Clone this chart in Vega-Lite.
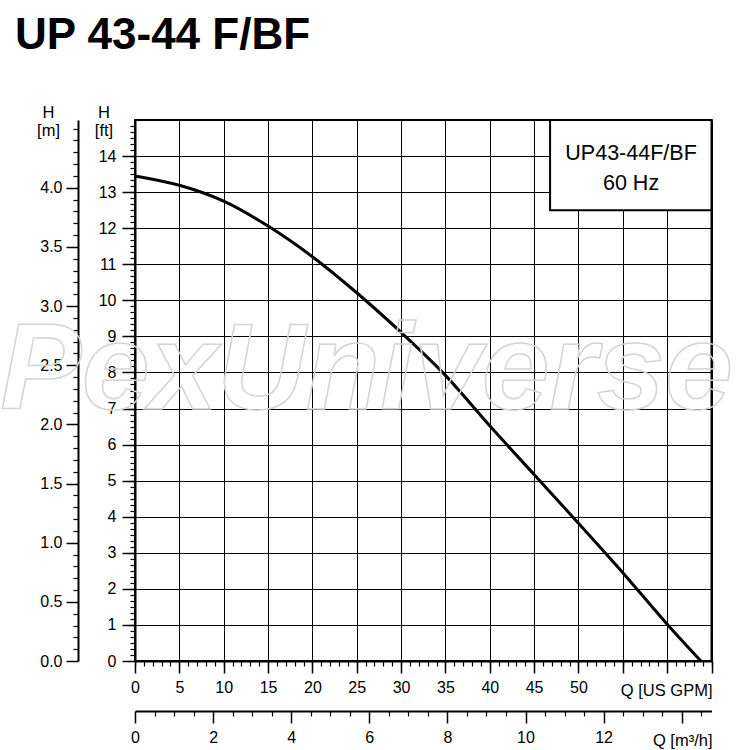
{
  "$schema": "https://vega.github.io/schema/vega-lite/v6.json",
  "width": 576.5,
  "height": 541,
  "autosize": {"type": "none"},
  "padding": {"left": 135, "top": 120, "right": 38.5, "bottom": 89},
  "background": "white",
  "config": {
    "font": "Liberation Sans",
    "view": {"stroke": "black", "strokeWidth": 2},
    "axis": {
      "labelFont": "Liberation Sans",
      "labelFontSize": 16,
      "labelColor": "black",
      "labelOverlap": false,
      "labelFlush": false,
      "titleFont": "Liberation Sans",
      "titleFontSize": 16.5,
      "titleFontWeight": "normal",
      "titleColor": "black",
      "tickColor": "black",
      "domainColor": "black",
      "gridColor": "black",
      "gridOpacity": 1
    }
  },
  "title": {
    "text": "UP 43-44 F/BF",
    "anchor": "start",
    "frame": "group",
    "font": "Liberation Sans",
    "fontSize": 44,
    "fontWeight": "bold",
    "color": "black",
    "baseline": "bottom",
    "dx": -120,
    "dy": -2,
    "offset": 0
  },
  "layer": [
    {
      "data": {"values": [
        {"gpm": 0, "ft": 13.45},
        {"gpm": 5, "ft": 13.19},
        {"gpm": 10, "ft": 12.75},
        {"gpm": 15, "ft": 12.06},
        {"gpm": 20, "ft": 11.21},
        {"gpm": 25, "ft": 10.21},
        {"gpm": 30, "ft": 9.11},
        {"gpm": 35, "ft": 7.92},
        {"gpm": 40, "ft": 6.52},
        {"gpm": 45, "ft": 5.17},
        {"gpm": 50, "ft": 3.82},
        {"gpm": 55, "ft": 2.45},
        {"gpm": 60, "ft": 1.02},
        {"gpm": 63.8, "ft": 0}
      ]},
      "layer": [
        {
          "mark": {"type": "line", "color": "black", "strokeWidth": 3, "interpolate": "monotone"},
          "encoding": {
            "x": {
              "field": "gpm", "type": "quantitative",
              "scale": {"domain": [0, 65], "nice": false, "zero": false},
              "axis": {
                "orient": "bottom",
                "values": [0, 5, 10, 15, 20, 25, 30, 35, 40, 45, 50, 55, 60, 65],
                "grid": true, "gridWidth": 1,
                "tickSize": 12, "tickWidth": 1.5,
                "domainWidth": 2,
                "labelPadding": 6,
                "labelExpr": "datum.value <= 50 ? datum.label : ''",
                "title": "Q [US GPM]",
                "titleX": 577, "titleY": 34,
                "titleAlign": "right", "titleBaseline": "alphabetic"
              }
            },
            "y": {
              "field": "ft", "type": "quantitative",
              "scale": {"domain": [0, 15], "nice": false, "zero": false},
              "axis": {
                "orient": "left",
                "values": [0, 1, 2, 3, 4, 5, 6, 7, 8, 9, 10, 11, 12, 13, 14],
                "tickCount": 15,
                "grid": true, "gridWidth": 1,
                "tickSize": 13, "tickWidth": 1.5,
                "domainWidth": 2,
                "labelPadding": 6,
                "title": ["H", "[ft]"],
                "titleAngle": 0, "titleAlign": "center", "titleBaseline": "alphabetic",
                "titleX": -31.5, "titleY": -3, "titleLineHeight": 18
              }
            }
          }
        },
        {
          "data": {"values": [{}]},
          "mark": {"type": "text", "text": "PexUniverse", "font": "Liberation Sans", "fontSize": 122, "fontWeight": "bold", "fontStyle": "italic", "fill": "white", "fillOpacity": 0, "stroke": "#d4d4d4", "strokeWidth": 1.5, "align": "center", "baseline": "alphabetic"},
          "encoding": {
            "x": {"datum": 26.1, "type": "quantitative"},
            "y": {"datum": 7, "type": "quantitative"}
          }
        },
        {
          "data": {"values": [{}]},
          "mark": {"type": "rect", "fill": "white", "stroke": "black", "strokeWidth": 2},
          "encoding": {
            "x": {"datum": 46.8, "type": "quantitative"},
            "x2": {"datum": 65},
            "y": {"datum": 12.5, "type": "quantitative"},
            "y2": {"datum": 15}
          }
        },
        {
          "data": {"values": [{}]},
          "mark": {"type": "text", "text": ["UP43-44F/BF", "60 Hz"], "font": "Liberation Sans", "fontSize": 21.5, "lineHeight": 30, "align": "center", "baseline": "middle", "color": "black"},
          "encoding": {
            "x": {"datum": 55.93, "type": "quantitative"},
            "y": {"datum": 14.06, "type": "quantitative"}
          }
        }
      ]
    },
    {
      "data": {"values": [{"q": 0}]},
      "mark": {"type": "point", "opacity": 0},
      "encoding": {
        "x": {
          "field": "q", "type": "quantitative",
          "scale": {"domain": [0, 65], "nice": false, "zero": false},
          "axis": {
            "orient": "bottom",
            "values": [0,1,2,3,4,5,6,7,8,9,10,11,12,13,14,15,16,17,18,19,20,21,22,23,24,25,26,27,28,29,30,31,32,33,34,35,36,37,38,39,40,41,42,43,44,45,46,47,48,49,50,51,52,53,54,55,56,57,58,59,60,61,62,63,64,65],
            "tickSize": 5, "tickWidth": 1.2,
            "labels": false, "domain": false, "grid": false, "title": null
          }
        }
      }
    },
    {
      "data": {"values": [{"inch": 0}]},
      "mark": {"type": "point", "opacity": 0},
      "encoding": {
        "y": {
          "field": "inch", "type": "quantitative",
          "scale": {"domain": [0, 180], "nice": false, "zero": false},
          "axis": {
            "orient": "left",
            "values": [2,4,6,8,10,12,14,16,18,20,22,24,26,28,30,32,34,36,38,40,42,44,46,48,50,52,54,56,58,60,62,64,66,68,70,72,74,76,78,80,82,84,86,88,90,92,94,96,98,100,102,104,106,108,110,112,114,116,118,120,122,124,126,128,130,132,134,136,138,140,142,144,146,148,150,152,154,156,158,160,162,164,166,168,170,172,174,176,178],
            "tickSize": 5, "tickWidth": 1.2,
            "labels": false, "domain": false, "grid": false, "title": null
          }
        }
      }
    },
    {
      "data": {"values": [{"m": 0}]},
      "mark": {"type": "point", "opacity": 0},
      "encoding": {
        "y": {
          "field": "m", "type": "quantitative",
          "scale": {"domain": [0, 4.572], "nice": false, "zero": false},
          "axis": {
            "orient": "left", "offset": 57,
            "values": [0, 0.5, 1, 1.5, 2, 2.5, 3, 3.5, 4],
            "format": ".1f",
            "tickSize": 12, "tickWidth": 1.5,
            "domainWidth": 2,
            "labelPadding": 4,
            "grid": false,
            "title": ["H", "[m]"],
            "titleAngle": 0, "titleAlign": "center", "titleBaseline": "alphabetic",
            "titleX": -30, "titleY": -3, "titleLineHeight": 18
          }
        }
      }
    },
    {
      "data": {"values": [{"m": 0}]},
      "mark": {"type": "point", "opacity": 0},
      "encoding": {
        "y": {
          "field": "m", "type": "quantitative",
          "scale": {"domain": [0, 4.572], "nice": false, "zero": false},
          "axis": {
            "orient": "left", "offset": 57,
            "values": [0.1,0.2,0.3,0.4,0.6,0.7,0.8,0.9,1.1,1.2,1.3,1.4,1.6,1.7,1.8,1.9,2.1,2.2,2.3,2.4,2.6,2.7,2.8,2.9,3.1,3.2,3.3,3.4,3.6,3.7,3.8,3.9,4.1,4.2,4.3,4.4,4.5],
            "tickSize": 5, "tickWidth": 1.2,
            "labels": false, "domain": false, "grid": false, "title": null
          }
        }
      }
    },
    {
      "data": {"values": [{"m3h": 0}]},
      "mark": {"type": "point", "opacity": 0},
      "encoding": {
        "x": {
          "field": "m3h", "type": "quantitative",
          "scale": {"domain": [0, 14.763], "nice": false, "zero": false},
          "axis": {
            "orient": "bottom", "offset": 50,
            "values": [0, 2, 4, 6, 8, 10, 12, 14],
            "tickSize": 12, "tickWidth": 1.5,
            "domainWidth": 2,
            "labelPadding": 6,
            "labelExpr": "datum.value <= 12 ? datum.label : ''",
            "grid": false,
            "title": "Q [m³/h]",
            "titleX": 577, "titleY": 34,
            "titleAlign": "right", "titleBaseline": "alphabetic"
          }
        }
      }
    },
    {
      "data": {"values": [{"m3h": 0}]},
      "mark": {"type": "point", "opacity": 0},
      "encoding": {
        "x": {
          "field": "m3h", "type": "quantitative",
          "scale": {"domain": [0, 14.763], "nice": false, "zero": false},
          "axis": {
            "orient": "bottom", "offset": 50,
            "values": [0.5,1,1.5,2.5,3,3.5,4.5,5,5.5,6.5,7,7.5,8.5,9,9.5,10.5,11,11.5,12.5,13,13.5,14.5],
            "tickSize": 5, "tickWidth": 1.2,
            "labels": false, "domain": false, "grid": false, "title": null
          }
        }
      }
    }
  ],
  "resolve": {
    "scale": {"x": "independent", "y": "independent"},
    "axis": {"x": "independent", "y": "independent"}
  }
}
